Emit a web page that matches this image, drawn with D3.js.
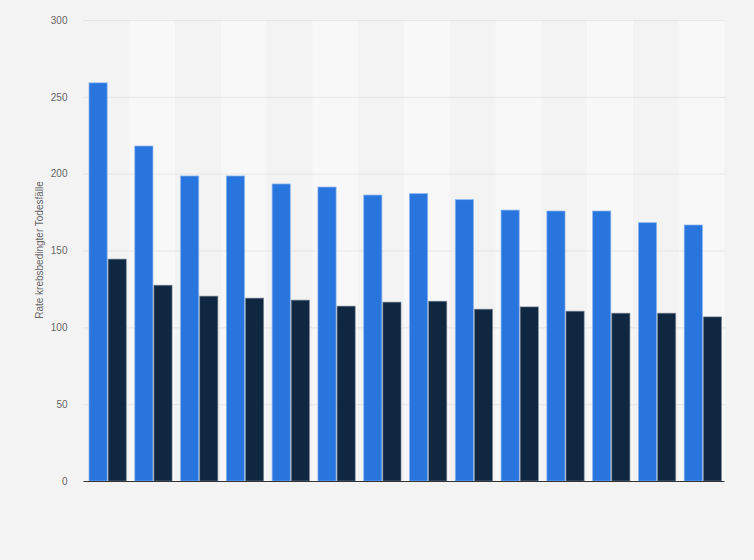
<!DOCTYPE html>
<html><head><meta charset="utf-8">
<script src="https://cdn.jsdelivr.net/npm/d3@7"></script>
<style>
html,body{margin:0;padding:0;background:#f3f3f3;}
svg{display:block;font-family:"Liberation Sans",Arial,sans-serif;}
</style></head>
<body>
<svg id="chart" width="754" height="560"></svg>
<script>
const categories = ["1","2","3","4","5","6","7","8","9","10","11","12","13","14"];
const seriesNames = ["Serie 1","Serie 2"];
const series1 = [259.1,218.0,198.5,198.5,193.3,191.3,186.1,187.0,183.1,176.3,175.7,175.7,168.1,166.6];
const series2 = [144.4,127.4,120.3,119.0,117.7,113.8,116.4,117.0,111.8,113.3,110.5,109.2,109.2,106.8];
const yTicks = [0,50,100,150,200,250,300];
const colors = ["#2876dd","#0f2740"];

const svg = d3.select("#chart");
const m = {left:83.5, right:29.5, top:20, bottom:79};
const W = 754, H = 560;
const iw = W - m.left - m.right, ih = H - m.top - m.bottom;
const g = svg.append("g").attr("transform",`translate(${m.left},${m.top})`);

const x0 = d3.scaleBand().domain(categories).range([0, iw]).padding(0);
const x1 = d3.scaleBand().domain(seriesNames).range([5.5, x0.bandwidth()-3]).paddingInner(0.05);
const y = d3.scaleLinear().domain([0,300]).range([ih,0]);

// alternating bands
g.selectAll("rect.band").data(categories).join("rect")
  .attr("class","band")
  .attr("x", d=>x0(d)).attr("y",0)
  .attr("width", x0.bandwidth()).attr("height", ih)
  .attr("fill", (d,i)=> i%2===1 ? "#f8f8f8" : "#f3f3f3");

// grid
const yAxis = d3.axisLeft(y).tickValues(yTicks).tickSize(-iw).tickPadding(16);
const ga = g.append("g").call(yAxis);
ga.select(".domain").remove();
ga.selectAll(".tick line").attr("stroke","#d6d6d6").attr("stroke-dasharray","1,1").attr("stroke-width",1);
ga.selectAll(".tick text").attr("fill","#666").attr("font-size","10px")
  .attr("font-family","\"Liberation Sans\",Arial,sans-serif");
ga.selectAll(".tick").filter(d=>d===0).select("line").remove();

// bars
const data = categories.map((c,i)=>({c, vals:[series1[i], series2[i]]}));
const grp = g.selectAll("g.grp").data(data).join("g")
  .attr("class","grp").attr("transform", d=>`translate(${x0(d.c)},0)`);
grp.selectAll("rect").data(d=>d.vals.map((v,j)=>({k:seriesNames[j], v, j})))
  .join("rect")
  .attr("x", d=>x1(d.k)).attr("width", x1.bandwidth())
  .attr("y", d=>y(d.v)).attr("height", d=>ih - y(d.v))
  .attr("fill", d=>colors[d.j])
  .attr("stroke", d=> d.j===0 ? "rgba(140,180,240,0.9)" : "rgba(120,135,150,0.8)")
  .attr("stroke-width", 0.8);

// x axis line
g.append("line").attr("x1",0).attr("x2",iw).attr("y1",ih+0.5).attr("y2",ih+0.5)
  .attr("stroke","#333").attr("stroke-width",1.2);

// y title
svg.append("text")
  .attr("transform",`translate(43,250) rotate(-90)`)
  .attr("text-anchor","middle").attr("fill","#666").attr("font-size","10px")
  .text("Rate krebsbedingter Todesfälle");
</script>
</body></html>
